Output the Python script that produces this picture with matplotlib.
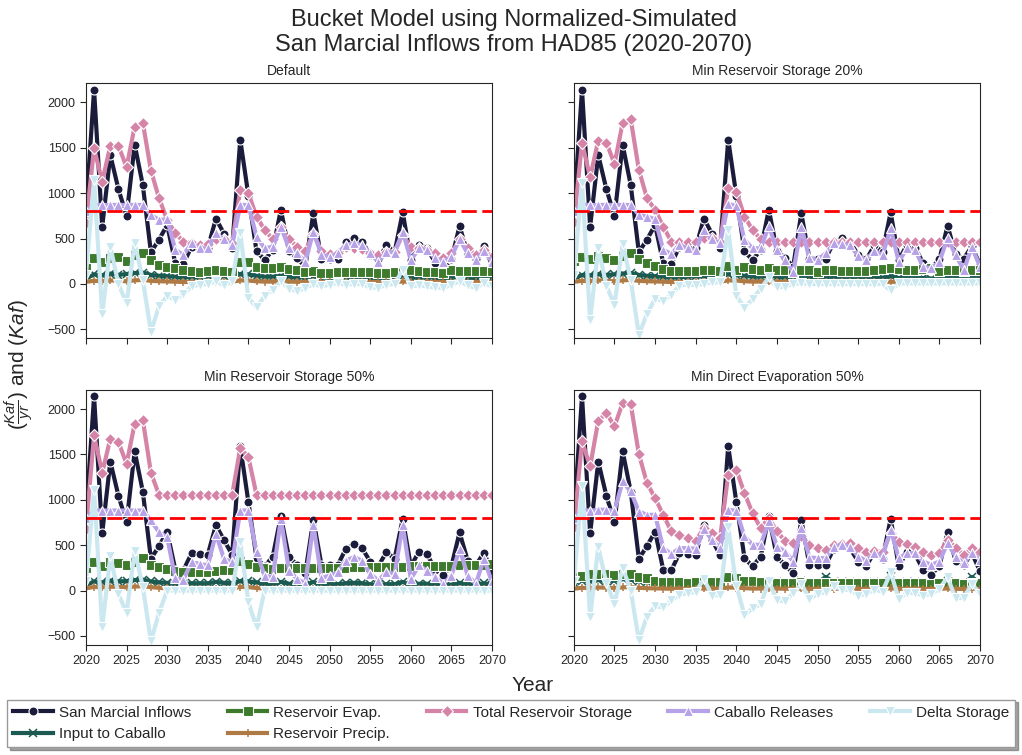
import numpy as np
import matplotlib.pyplot as plt

plt.rcParams['font.family'] = ['Liberation Sans', 'DejaVu Sans']
plt.rcParams['mathtext.fontset'] = 'custom'
plt.rcParams['mathtext.rm'] = 'Liberation Sans'
plt.rcParams['mathtext.it'] = 'Liberation Sans:italic'
plt.rcParams['axes.edgecolor'] = '0.15'
plt.rcParams['xtick.color'] = '0.15'
plt.rcParams['ytick.color'] = '0.15'
plt.rcParams['text.color'] = '0.15'

years = list(range(2020, 2071))

# San Marcial inflows (same input for every scenario)
inflows = [800, 2140, 630, 1420, 1045, 750, 1535, 1090, 350, 490,
           650, 230, 225, 410, 400, 395, 720, 555, 395, 1590,
           975, 360, 265, 375, 820, 365, 285, 190, 780, 280,
           280, 280, 460, 510, 465, 320, 270, 425, 350, 790,
           265, 430, 400, 230, 175, 270, 640, 330, 280, 415, 210]

# Default
storage_def = [670, 1496, 1128, 1522, 1522, 1287, 1735, 1779, 1250, 945,
               706, 559, 467, 456, 430, 441, 493, 493, 456, 1037,
               1000, 743, 596, 493, 632, 493, 412, 368, 551, 368,
               331, 346, 412, 393, 382, 338, 320, 357, 357, 540,
               412, 393, 375, 346, 283, 338, 493, 393, 320, 375, 301]
releases_def = [800, 871, 871, 871, 871, 871, 871, 871, 761, 706,
                713, 375, 320, 448, 393, 393, 559, 493, 430, 871,
                871, 522, 393, 412, 632, 393, 338, 246, 577, 320,
                301, 338, 430, 448, 430, 338, 246, 357, 346, 577,
                265, 393, 375, 283, 246, 301, 493, 338, 265, 368, 246]
evap_def = [200, 283, 246, 290, 301, 254, 320, 345, 265, 210,
            191, 173, 154, 143, 136, 143, 154, 147, 136, 246,
            246, 191, 173, 173, 191, 162, 154, 136, 147, 125,
            125, 136, 136, 136, 136, 136, 125, 125, 136, 162,
            154, 147, 136, 136, 125, 154, 143, 143, 143, 143, 143]
delta_def = [100, 1147, -336, 412, 0, -213, 456, 44, -525, -245,
             -135, -172, -110, -26, -7, 0, 29, -15, 29, 560,
             -153, -255, -135, -62, 29, -51, -80, -44, 0, -26,
             -7, 11, -7, 0, 0, -37, -44, -7, 0, 157,
             -26, -15, -26, -37, -44, -7, 29, -15, -44, 11, -26]
caballo_def = [60, 105, 95, 115, 100, 110, 120, 125, 100, 90,
               85, 80, 75, 75, 80, 85, 90, 85, 80, 110,
               105, 90, 80, 80, 90, 80, 75, 70, 85, 70,
               70, 70, 75, 80, 75, 70, 65, 70, 70, 85,
               65, 75, 75, 70, 65, 70, 80, 70, 65, 75, 70]
precip_def = [25, 35, 30, 40, 35, 30, 40, 45, 35, 30,
              28, 25, 22, 22, 22, 24, 26, 26, 24, 40,
              38, 30, 26, 26, 30, 26, 24, 22, 26, 22,
              20, 20, 22, 24, 22, 22, 20, 22, 22, 28,
              22, 24, 24, 22, 20, 22, 26, 22, 20, 22, 20]

# Min reservoir storage 20%
storage_20 = [680, 1559, 1176, 1581, 1559, 1323, 1772, 1816, 1257, 945,
              816, 632, 467, 460, 460, 467, 504, 504, 467, 1055,
              1018, 743, 596, 493, 460, 460, 460, 460, 460, 460,
              460, 460, 460, 460, 460, 460, 460, 460, 460, 460,
              460, 460, 460, 460, 460, 460, 460, 460, 460, 460, 460]
releases_20 = [800, 871, 871, 871, 871, 871, 871, 871, 761, 743,
               713, 375, 331, 430, 393, 375, 596, 493, 448, 882,
               860, 485, 393, 393, 640, 375, 265, 130, 632, 283,
               265, 338, 448, 437, 430, 309, 265, 368, 320, 614,
               246, 393, 375, 191, 173, 246, 504, 320, 154, 412, 191]
evap_20 = [250, 292, 270, 310, 290, 265, 303, 340, 273, 230,
           193, 164, 146, 139, 139, 146, 157, 157, 146, 193,
           157, 183, 164, 157, 172, 157, 153, 135, 157, 153,
           135, 153, 153, 146, 146, 146, 146, 157, 164, 175,
           164, 157, 157, 164, 172, 146, 157, 157, 146, 157, 157]
delta_20 = [100, 1110, -400, 400, -18, -230, 440, 44, -558, -328,
            -164, -183, -120, -18, -7, -11, 0, 18, 18, 596,
            -128, -266, -164, -55, 73, -37, -29, 0, 11, 0,
            0, 0, 0, 0, 0, 0, 0, 0, 0, -70,
            7, 7, 7, 7, 7, 7, 7, 7, 7, 7, 7]
caballo_20 = [60, 100, 95, 110, 100, 105, 115, 120, 100, 90,
              85, 80, 75, 75, 80, 85, 90, 85, 80, 105,
              100, 90, 80, 80, 90, 80, 75, 70, 85, 70,
              70, 70, 75, 80, 75, 70, 65, 70, 70, 85,
              65, 75, 75, 65, 60, 65, 80, 70, 60, 75, 65]
precip_20 = [25, 35, 30, 40, 35, 30, 40, 45, 35, 30,
             28, 25, 22, 22, 22, 24, 26, 26, 24, 40,
             38, 30, 26, 26, 28, 25, 24, 24, 25, 24,
             24, 24, 24, 24, 24, 24, 24, 24, 24, 24,
             24, 24, 24, 24, 24, 24, 24, 24, 24, 24, 24]

# Min reservoir storage 50%
storage_50 = [680, 1709, 1298, 1673, 1636, 1397, 1838, 1882, 1298, 1055,
              1055, 1055, 1055, 1055, 1055, 1055, 1055, 1055, 1055, 1570,
              1470, 1055, 1055, 1055, 1055, 1055, 1055, 1055, 1055, 1055,
              1055, 1055, 1055, 1055, 1055, 1055, 1055, 1055, 1055, 1055,
              1055, 1055, 1055, 1055, 1055, 1055, 1055, 1055, 1055, 1055, 1055]
releases_50 = [800, 882, 882, 882, 882, 882, 882, 882, 772, 643,
               588, 136, 121, 312, 294, 276, 625, 349, 312, 882,
               882, 423, 165, 147, 790, 220, 129, 74, 724, 136,
               165, 202, 331, 368, 331, 184, 110, 202, 184, 724,
               129, 276, 220, 147, 74, 165, 460, 165, 74, 349, 92]
evap_50 = [250, 310, 275, 310, 308, 282, 320, 355, 282, 261,
           235, 210, 199, 199, 199, 206, 217, 224, 224, 326,
           290, 261, 243, 235, 243, 246, 246, 246, 253, 246,
           253, 253, 253, 257, 257, 257, 261, 261, 264, 264,
           268, 268, 268, 271, 275, 275, 279, 279, 282, 286, 290]
delta_50 = [100, 1103, -405, 380, -37, -246, 434, 44, -561, -243,
            0, 0, 0, 0, 0, 0, 0, 0, 0, 533,
            -127, -405, 0, 0, 0, 0, 0, 0, 0, 0,
            0, 0, 0, 0, 0, 0, 0, 0, 0, 0,
            0, 0, 0, 0, 0, 0, 0, 0, 0, 0, 0]
caballo_50 = [60, 100, 90, 110, 100, 105, 115, 120, 100, 90,
              85, 70, 70, 80, 80, 80, 95, 85, 80, 105,
              100, 90, 70, 70, 95, 75, 65, 60, 95, 65,
              70, 70, 80, 85, 80, 70, 60, 70, 70, 95,
              60, 75, 75, 65, 60, 65, 85, 70, 60, 80, 60]
precip_50 = [25, 40, 35, 42, 40, 36, 44, 48, 38, 30,
             25, 22, 22, 22, 22, 22, 22, 22, 22, 40,
             38, 28, 22, 22, 22, 22, 22, 22, 22, 22,
             22, 22, 22, 22, 22, 22, 22, 22, 22, 22,
             22, 22, 22, 22, 22, 22, 22, 22, 22, 22, 22]

# Min direct evaporation 50%
storage_ev = [700, 1643, 1367, 1871, 1956, 1809, 2066, 2055, 1503, 1184,
              1018, 834, 651, 607, 577, 548, 687, 632, 577, 1276,
              1331, 1073, 853, 687, 798, 651, 548, 522, 596, 504,
              467, 448, 504, 511, 522, 467, 430, 441, 430, 632,
              540, 511, 485, 430, 393, 412, 559, 474, 393, 467, 430]
releases_ev = [800, 890, 879, 890, 890, 879, 1202, 1092, 871, 834,
               834, 467, 401, 467, 467, 460, 680, 559, 467, 890,
               879, 596, 504, 504, 761, 485, 430, 320, 687, 364,
               357, 357, 485, 504, 485, 375, 327, 412, 375, 669,
               357, 412, 412, 320, 283, 320, 522, 375, 301, 412, 338]
evap_ev = [150, 165, 180, 185, 181, 170, 185, 181, 152, 138,
           109, 91, 91, 91, 84, 91, 98, 91, 91, 145,
           138, 109, 102, 91, 91, 88, 84, 84, 91, 81,
           81, 81, 84, 81, 81, 81, 81, 81, 84, 91,
           81, 81, 81, 81, 77, 81, 84, 81, 77, 81, 81]
delta_ev = [100, 1150, -290, 480, 85, -143, 250, 0, -546, -286,
            -171, -186, -107, -46, -25, -18, 130, -55, -50, 700,
            55, -270, -196, -150, 100, -107, -118, -30, 70, -90,
            -37, -19, 50, 7, 11, -55, -37, 11, -11, 200,
            -90, -29, -26, -55, -37, 19, 147, -85, -81, 74, -37]
caballo_ev = [80, 110, 100, 115, 105, 110, 125, 120, 100, 95,
              90, 85, 80, 85, 85, 85, 100, 90, 85, 155,
              110, 95, 90, 90, 105, 90, 85, 80, 100, 85,
              85, 150, 95, 95, 95, 85, 80, 90, 85, 160,
              80, 90, 90, 80, 75, 80, 100, 85, 80, 150, 80]
precip_ev = [20, 30, 28, 34, 32, 28, 35, 38, 30, 26,
             24, 22, 20, 20, 20, 21, 23, 22, 20, 34,
             32, 26, 22, 22, 25, 22, 20, 18, 23, 19,
             18, 18, 19, 21, 20, 19, 18, 19, 19, 25,
             19, 20, 20, 19, 17, 19, 23, 19, 17, 20, 18]

scenario_titles = ['Default', 'Min Reservoir Storage 20%',
                   'Min Reservoir Storage 50%', 'Min Direct Evaporation 50%']
scenarios = [
    dict(caballo=caballo_def, evap=evap_def, precip=precip_def,
         storage=storage_def, releases=releases_def, delta=delta_def),
    dict(caballo=caballo_20, evap=evap_20, precip=precip_20,
         storage=storage_20, releases=releases_20, delta=delta_20),
    dict(caballo=caballo_50, evap=evap_50, precip=precip_50,
         storage=storage_50, releases=releases_50, delta=delta_50),
    dict(caballo=caballo_ev, evap=evap_ev, precip=precip_ev,
         storage=storage_ev, releases=releases_ev, delta=delta_ev),
]

flood_level = 800

# (key, label, colour, marker) in drawing order
series = [
    ('inflow', 'San Marcial Inflows', '#1b1c3b', 'o'),
    ('caballo', 'Input to Caballo', '#1a5a50', 'x'),
    ('evap', 'Reservoir Evap.', '#3d7a2c', 's'),
    ('precip', 'Reservoir Precip.', '#b07a45', '+'),
    ('storage', 'Total Reservoir Storage', '#d583a7', 'D'),
    ('releases', 'Caballo Releases', '#b7a2e8', '^'),
    ('delta', 'Delta Storage', '#cbe8f1', 'v'),
]

fig, axes = plt.subplots(2, 2, figsize=(10.22, 7.55), dpi=100,
                         sharex=True, sharey=True)
fig.subplots_adjust(left=0.0841, right=0.9589, top=0.8901, bottom=0.1457,
                    wspace=0.2015, hspace=0.2)

for ax, title, scen in zip(axes.flat, scenario_titles, scenarios):
    data = dict(scen, inflow=inflows)
    for key, label, color, marker in series:
        unfilled = marker in ('x', '+')
        if unfilled:
            ax.plot(years, data[key], color=color, lw=3, marker=marker,
                    ms=5.5, mec=color, mew=1.1, label=label)
        else:
            ms = 6 if marker == 'D' else 6.5
            ax.plot(years, data[key], color=color, lw=3, marker=marker,
                    ms=ms, mec='white', mew=0.8, label=label)
    ax.axhline(flood_level, color='red', ls='--', lw=2, dashes=(5.5, 2))
    ax.set_title(title, fontsize=10, pad=6)
    ax.set_xlim(2020, 2070)
    ax.set_ylim(-600, 2215)
    ax.set_xticks(np.arange(2020, 2071, 5))
    ax.set_yticks([-500, 0, 500, 1000, 1500, 2000])
    ax.tick_params(labelsize=9, length=4)

fig.suptitle('Bucket Model using Normalized-Simulated\n'
             'San Marcial Inflows from HAD85 (2020-2070)',
             fontsize=17, y=0.988, x=0.503, linespacing=1.2)
fig.text(0.5215, 0.092, 'Year', fontsize=15, ha='center', va='center')
fig.text(0.019, 0.517, r'$(\frac{Kaf}{yr})$ and $(Kaf)$', fontsize=15,
         rotation=90, ha='center', va='center')

handles, labels = axes[0, 0].get_legend_handles_labels()
fig.legend(handles[:7], labels[:7], loc='lower center', ncol=5,
           bbox_to_anchor=(0.5, 0.0), fontsize=11, handlelength=2.6,
           handletextpad=0.4, columnspacing=2.4, frameon=True,
           shadow=True, fancybox=False, edgecolor='0.6')

plt.savefig('out.png', dpi=100)
